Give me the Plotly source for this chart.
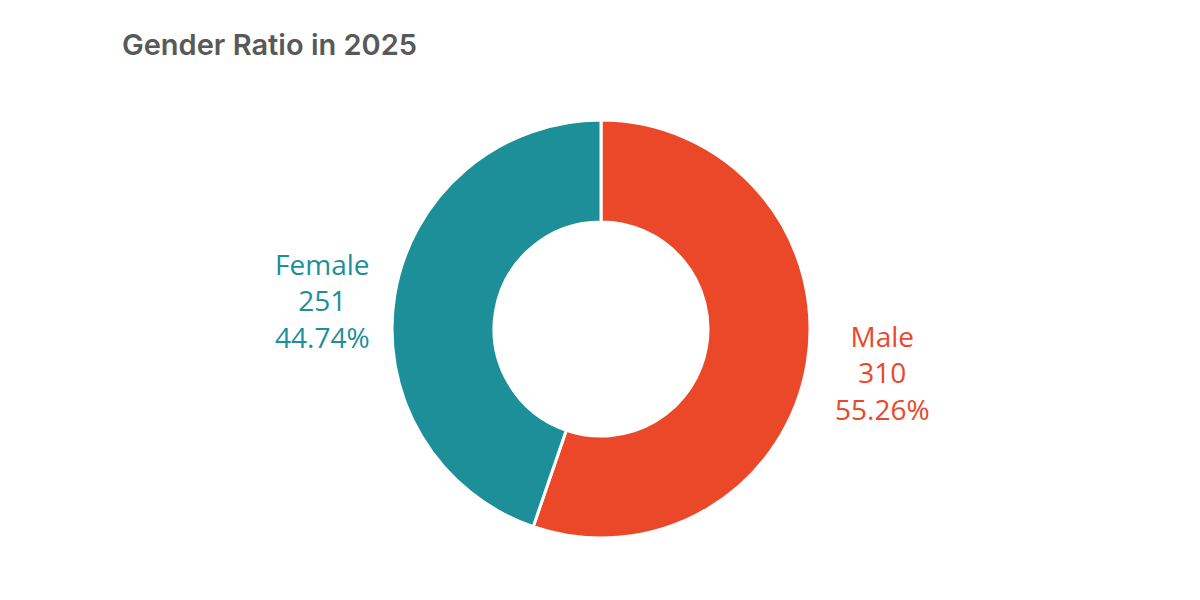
import plotly.graph_objects as go

categories = ["Male", "Female"]
values = [310, 251]
colors = ["#EB4829", "#1C8F98"]

total = sum(values)
texts = [f"{c}<br>{v}<br>{v / total * 100:.2f}%" for c, v in zip(categories, values)]

W, H = 1200, 600
OFF = 8  # page body margin
cx, cy, r = 601 - OFF, 329 - OFF, 209

fig = go.Figure()
fig.add_trace(go.Pie(
    labels=categories,
    values=values,
    hole=0.512,
    sort=False,
    direction="clockwise",
    rotation=0,
    marker=dict(colors=colors, line=dict(color="white", width=3)),
    textinfo="none",
    hoverinfo="label+value+percent",
    showlegend=False,
    domain=dict(x=[(cx - r) / W, (cx + r) / W], y=[(H - cy - r) / H, (H - cy + r) / H]),
))

label_pos = [(882 - OFF, 372 - OFF), (322 - OFF, 300 - OFF)]
for t, col, (px, py) in zip(texts, colors, label_pos):
    fig.add_annotation(
        x=px / W, y=1 - py / H, xref="paper", yref="paper",
        text=t, showarrow=False, align="center",
        font=dict(family="Open Sans, Lato, sans-serif", size=28, color=col),
        xanchor="center", yanchor="middle",
    )

fig.update_layout(
    width=W, height=H,
    margin=dict(l=0, r=0, t=0, b=0),
    paper_bgcolor="white", plot_bgcolor="white",
    title=dict(
        text="Gender Ratio in 2025",
        x=(122 - OFF) / W, xanchor="left", y=1 - (45 - OFF) / H, yanchor="middle",
        font=dict(family="Inter, Open Sans, sans-serif", size=29, color="#595959", weight=600),
    ),
)

fig.write_html("out.html")
